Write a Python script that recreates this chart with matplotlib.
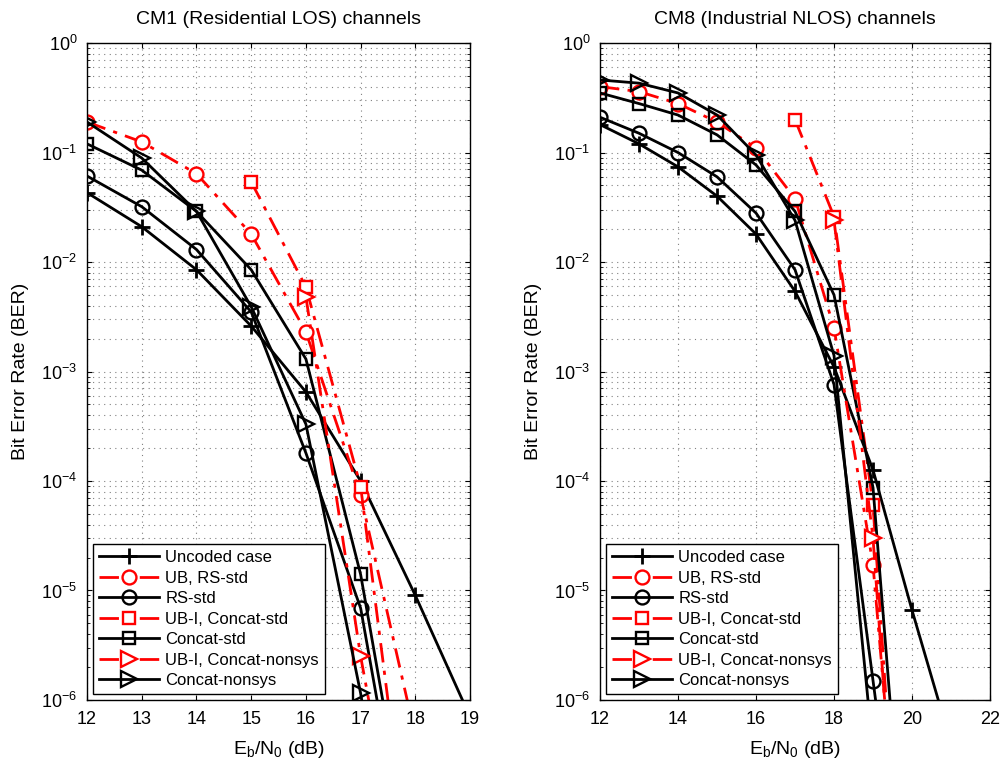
import numpy as np
import matplotlib
matplotlib.use('Agg')
import matplotlib.pyplot as plt

plt.rcParams['font.family'] = ['Liberation Sans', 'DejaVu Sans']
plt.rcParams['mathtext.default'] = 'regular'

labels = ['Uncoded case', 'UB, RS-std', 'RS-std', 'UB-I, Concat-std',
          'Concat-std', 'UB-I, Concat-nonsys', 'Concat-nonsys']

# CM1 (Residential LOS)
x1 = [12, 13, 14, 15, 16, 17, 18, 19]
cm1_uncoded = [0.043, 0.021, 0.0085, 0.0026, 6.5e-4, 1.0e-4, 9e-6, 7e-7]
cm1_ub_rs_x = [12, 13, 14, 15, 16, 17, 18]
cm1_ub_rs = [0.19, 0.125, 0.064, 0.018, 0.0023, 7.4e-5, 4.7e-7]
cm1_rs_x = [12, 13, 14, 15, 16, 17, 18]
cm1_rs = [0.061, 0.032, 0.013, 0.0035, 1.8e-4, 6.9e-6, 1.1e-8]
cm1_ubc_x = [15, 16, 17, 18]
cm1_ubc = [0.054, 0.0059, 8.9e-5, 1.1e-8]
cm1_cs_x = [12, 13, 14, 15, 16, 17, 18]
cm1_cs = [0.12, 0.069, 0.029, 0.0085, 0.0013, 1.4e-5, 2e-8]
cm1_ubn_x = [16, 17, 18]
cm1_ubn = [0.0048, 2.5e-6, 5e-9]
cm1_cn_x = [12, 13, 14, 15, 16, 17, 18]
cm1_cn = [0.19, 0.089, 0.029, 0.0039, 3.3e-4, 1.15e-6, 1e-9]

# CM8 (Industrial NLOS)
x8 = [12, 13, 14, 15, 16, 17, 18, 19, 20, 21]
cm8_uncoded = [0.18, 0.12, 0.074, 0.040, 0.018, 0.0054, 0.0011, 1.26e-4, 6.6e-6, 4e-7]
cm8_ub_rs_x = [12, 13, 14, 15, 16, 17, 18, 19, 20]
cm8_ub_rs = [0.40, 0.36, 0.28, 0.19, 0.11, 0.038, 0.0025, 1.7e-5, 1.3e-9]
cm8_rs_x = [12, 13, 14, 15, 16, 17, 18, 19, 20]
cm8_rs = [0.21, 0.15, 0.10, 0.060, 0.028, 0.0085, 7.6e-4, 1.5e-6, 3e-9]
cm8_ubc_x = [17, 18, 19, 20]
cm8_ubc = [0.20, 0.026, 6e-5, 3e-10]
cm8_cs_x = [12, 13, 14, 15, 16, 17, 18, 19, 20]
cm8_cs = [0.35, 0.28, 0.22, 0.145, 0.077, 0.029, 0.0050, 8.7e-5, 3e-9]
cm8_ubn_x = [18, 19, 20]
cm8_ubn = [0.024, 3e-5, 3e-10]
cm8_cn_x = [12, 13, 14, 15, 16, 17, 18, 19]
cm8_cn = [0.46, 0.43, 0.35, 0.22, 0.095, 0.024, 0.0014, 3.4e-7]

dashdot = (0, (7, 3, 1.5, 3))
styles = [
    dict(color='k', ls='-', marker='+', ms=11, mew=2.0),
    dict(color='r', ls=dashdot, marker='o', ms=10, mfc='white'),
    dict(color='k', ls='-', marker='o', ms=10, mfc='none'),
    dict(color='r', ls=dashdot, marker='s', ms=9, mfc='white'),
    dict(color='k', ls='-', marker='s', ms=9, mfc='none'),
    dict(color='r', ls=dashdot, marker='>', ms=11, mfc='white'),
    dict(color='k', ls='-', marker='>', ms=11, mfc='none'),
]


def draw(ax, series, title, xlim, xticks):
    for (xs, ys), st, lab in zip(series, styles, labels):
        st = dict(st)
        ax.semilogy(xs, ys, lw=2, mew=st.pop('mew', 1.7), label=lab, **st)
    ax.set_xlim(xlim)
    ax.set_ylim(1e-6, 1)
    ax.set_xticks(xticks)
    ax.set_yticks([10.0 ** k for k in range(-6, 1)])
    ax.grid(True, which='major', axis='x', ls=(0, (1, 4)), color='0.5', lw=0.8)
    ax.grid(True, which='both', axis='y', ls=(0, (1, 4)), color='0.5', lw=0.8)
    ax.tick_params(which='both', direction='in', top=True, right=True,
                   labelsize=13)
    ax.tick_params(axis='x', pad=8)
    ax.tick_params(axis='y', pad=7)
    ax.set_title(title, fontsize=14, pad=14)
    ax.set_xlabel(r'E$_b$/N$_0$ (dB)', fontsize=14, labelpad=8)
    ax.set_ylabel('Bit Error Rate (BER)', fontsize=14, labelpad=9)
    leg = ax.legend(loc='lower left', fontsize=12, handlelength=3.6,
                    fancybox=False, framealpha=1, edgecolor='k',
                    borderpad=0.35, labelspacing=0.33, handletextpad=0.4,
                    borderaxespad=0.35)
    leg.get_frame().set_linewidth(1.0)
    for sp in ax.spines.values():
        sp.set_linewidth(1.0)


fig = plt.figure(figsize=(10.04, 7.63), dpi=100)
ax1 = fig.add_axes([0.0867, 0.0826, 0.3815, 0.861])
ax2 = fig.add_axes([0.5976, 0.0826, 0.3885, 0.861])

draw(ax1, [(x1, cm1_uncoded), (cm1_ub_rs_x, cm1_ub_rs), (cm1_rs_x, cm1_rs),
           (cm1_ubc_x, cm1_ubc), (cm1_cs_x, cm1_cs), (cm1_ubn_x, cm1_ubn),
           (cm1_cn_x, cm1_cn)],
     'CM1 (Residential LOS) channels', (12, 19), range(12, 20))
draw(ax2, [(x8, cm8_uncoded), (cm8_ub_rs_x, cm8_ub_rs), (cm8_rs_x, cm8_rs),
           (cm8_ubc_x, cm8_ubc), (cm8_cs_x, cm8_cs), (cm8_ubn_x, cm8_ubn),
           (cm8_cn_x, cm8_cn)],
     'CM8 (Industrial NLOS) channels', (12, 22), range(12, 23, 2))

fig.savefig('out.png', dpi=100)
